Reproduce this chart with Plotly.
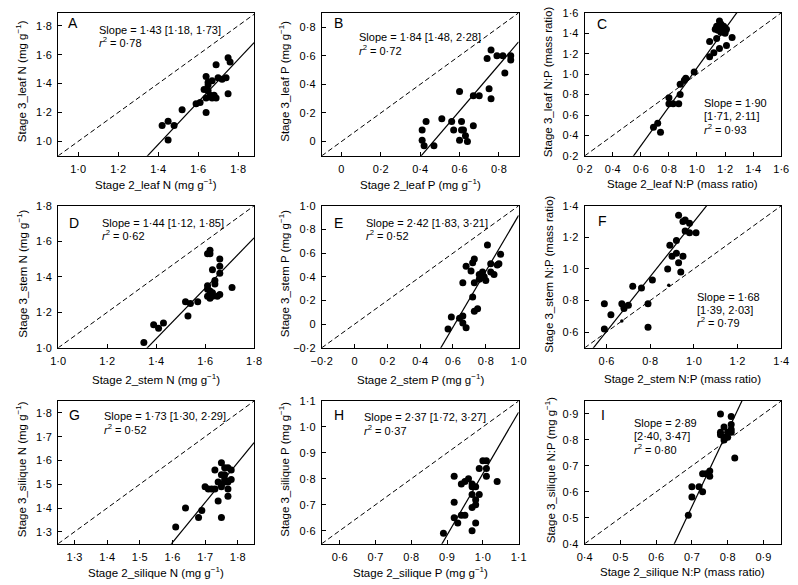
import plotly.graph_objects as go

W, H = 798, 585
FONT = "Liberation Sans, Arial, sans-serif"

# ---------------- data ----------------
a_x = [1.42,1.45,1.45,1.48,1.52,1.59,1.61,1.64,1.64,1.63,1.65,1.65,1.65,1.66,1.64,1.67,1.68,1.67,1.69,1.70,1.72,1.74,1.75,1.76,1.75,1.69]
a_y = [1.11,1.14,1.01,1.11,1.22,1.26,1.27,1.20,1.45,1.36,1.39,1.41,1.35,1.32,1.30,1.30,1.32,1.42,1.53,1.44,1.43,1.44,1.58,1.55,1.33,1.30]

b_x = [0.41,0.41,0.43,0.42,0.47,0.51,0.56,0.57,0.60,0.60,0.61,0.61,0.62,0.63,0.64,0.67,0.67,0.70,0.74,0.76,0.75,0.76,0.79,0.82,0.83,0.86,0.86]
b_y = [0.01,0.08,0.14,-0.03,-0.03,0.16,0.14,0.08,0.01,0.35,0.08,0.14,0.08,0.04,0.00,0.11,0.32,0.32,0.58,0.64,0.37,0.30,0.60,0.60,0.48,0.60,0.57]

c_x = [0.69,0.72,0.74,0.80,0.80,0.83,0.87,0.88,0.88,0.91,0.92,0.98,
       1.09,1.12,1.16,1.21,1.09,1.14,1.25,1.20,1.17,1.18,1.14,1.19,1.16,1.15,1.17,1.21,1.13,1.20]
c_y = [0.48,0.52,0.43,0.77,0.71,0.71,0.71,0.80,0.90,0.94,0.96,1.02,
       1.17,1.21,1.25,1.28,1.32,1.35,1.36,1.40,1.41,1.45,1.47,1.47,1.52,1.43,1.49,1.44,1.44,1.42]

d_x = [1.35,1.39,1.41,1.43,1.52,1.53,1.54,1.57,1.61,1.61,1.61,1.62,1.62,1.63,1.61,1.62,1.63,1.63,1.64,1.64,1.65,1.66,1.66,1.66,1.66,1.71,1.62]
d_y = [1.03,1.13,1.11,1.14,1.26,1.18,1.25,1.26,1.35,1.33,1.53,1.55,1.53,1.44,1.29,1.32,1.31,1.29,1.38,1.36,1.29,1.50,1.46,1.42,1.30,1.34,1.28]

e_x = [0.57,0.59,0.64,0.66,0.66,0.68,0.66,0.68,0.71,0.72,0.73,0.72,0.73,0.75,0.73,0.76,0.77,0.78,0.79,0.80,0.81,0.83,0.83,0.85,0.87,0.88,0.89,0.76]
e_y = [-0.04,0.06,0.05,0.07,0.01,-0.03,0.35,0.49,0.45,0.52,0.55,0.23,0.11,0.13,0.35,0.42,0.39,0.44,0.40,0.37,0.67,0.51,0.44,0.42,0.50,0.51,0.59,0.38]

f_x = [0.59,0.59,0.62,0.67,0.68,0.68,0.72,0.70,0.76,0.79,0.79,0.81,0.88,0.89,0.90,0.92,0.92,0.93,0.94,0.93,0.95,0.96,0.95,0.96,0.98,0.98,1.01]
f_y = [0.78,0.62,0.71,0.78,0.76,0.75,0.89,0.77,0.88,0.78,0.63,0.93,1.00,1.15,1.08,1.10,1.18,1.04,0.98,1.34,1.30,1.31,1.08,1.24,1.23,1.29,1.23]
f_small_x = [0.67, 0.885]
f_small_y = [0.67, 0.896]

g_x = [1.61,1.64,1.68,1.69,1.70,1.71,1.72,1.73,1.73,1.74,1.74,1.75,1.75,1.75,1.75,1.75,1.76,1.76,1.76,1.77,1.77,1.77,1.77,1.78,1.78,1.76]
g_y = [1.32,1.40,1.36,1.39,1.49,1.48,1.48,1.48,1.56,1.43,1.51,1.50,1.49,1.59,1.54,1.36,1.57,1.52,1.51,1.57,1.51,1.45,1.48,1.52,1.56,1.54]

h_x = [0.89,0.92,0.92,0.92,0.93,0.94,0.94,0.95,0.96,0.95,0.97,0.97,0.97,0.97,0.97,0.98,0.98,0.98,0.98,0.99,0.99,1.00,1.01,1.01,1.01,1.04]
h_y = [0.59,0.81,0.71,0.65,0.63,0.78,0.66,0.79,0.80,0.66,0.60,0.77,0.69,0.74,0.78,0.70,0.72,0.63,0.77,0.74,0.84,0.87,0.87,0.81,0.84,0.79]

i_x = [0.69,0.70,0.70,0.72,0.73,0.73,0.74,0.75,0.75,0.78,0.78,0.78,0.79,0.79,0.79,0.80,0.80,0.81,0.81,0.81,0.81,0.82]
i_y = [0.51,0.62,0.58,0.62,0.67,0.60,0.67,0.68,0.66,0.90,0.82,0.83,0.85,0.81,0.80,0.81,0.83,0.84,0.86,0.83,0.89,0.73]

panel_letters = ["A", "B", "C", "D", "E", "F", "G", "H", "I"]
fit_slopes = [1.47, 1.61, 1.905, 1.42, 2.36, 1.737, 1.68, 2.37, 2.91]
fit_intercepts = [-1.08, -0.752, -0.844, -0.937, -1.441, -0.438, -1.433, -1.55, -1.494]

x_ranges = [[0.9, 1.88], [-0.1, 0.9], [0.2, 1.6], [1.0, 1.8], [-0.2, 1.0], [0.5, 1.4], [1.25, 1.85], [0.55, 1.1], [0.4, 0.95]]
y_ranges = [[0.9, 1.89], [-0.1, 0.9], [0.2, 1.6], [1.0, 1.8], [-0.2, 1.0], [0.5, 1.4], [1.25, 1.85], [0.55, 1.1], [0.4, 0.95]]

x_ticks = [[1.0,1.2,1.4,1.6,1.8], [0,0.2,0.4,0.6,0.8], [0.2,0.4,0.6,0.8,1.0,1.2,1.4,1.6],
           [1.0,1.2,1.4,1.6,1.8], [-0.2,0,0.2,0.4,0.6,0.8,1.0], [0.6,0.8,1.0,1.2,1.4],
           [1.3,1.4,1.5,1.6,1.7,1.8], [0.6,0.7,0.8,0.9,1.0,1.1], [0.4,0.5,0.6,0.7,0.8,0.9]]
y_ticks = [[1.0,1.2,1.4,1.6,1.8], [0,0.2,0.4,0.6,0.8], [0.2,0.4,0.6,0.8,1.0,1.2,1.4,1.6],
           [1.0,1.2,1.4,1.6,1.8], [-0.2,0,0.2,0.4,0.6,0.8,1.0], [0.6,0.8,1.0,1.2,1.4],
           [1.3,1.4,1.5,1.6,1.7,1.8], [0.6,0.7,0.8,0.9,1.0,1.1], [0.4,0.5,0.6,0.7,0.8,0.9]]

G1 = "(mg g<sup>−1</sup>)"
x_titles = ["Stage 2_leaf N " + G1, "Stage 2_leaf P " + G1, "Stage 2_leaf N:P (mass ratio)",
            "Stage 2_stem N " + G1, "Stage 2_stem P " + G1, "Stage 2_stem N:P (mass ratio)",
            "Stage 2_silique N " + G1, "Stage 2_silique P " + G1, "Stage 2_silique N:P (mass ratio)"]
y_titles = ["Stage 3_leaf N " + G1, "Stage 3_leaf P " + G1, "Stage 3_leaf N:P (mass ratio)",
            "Stage 3_stem N " + G1, "Stage 3_stem P " + G1, "Stage 3_stem N:P (mass ratio)",
            "Stage 3_silique N " + G1, "Stage 3_silique P " + G1, "Stage 3_silique N:P " + G1]

R2 = "<i>r</i><sup>2</sup> = "
stat_lines = [["Slope = 1·43 [1·18, 1·73]", R2 + "0·78"],
              ["Slope = 1·84 [1·48, 2·28]", R2 + "0·72"],
              ["Slope = 1·90", "[1·71, 2·11]", R2 + "0·93"],
              ["Slope = 1·44 [1·12, 1·85]", R2 + "0·62"],
              ["Slope = 2·42 [1·83, 3·21]", R2 + "0·52"],
              ["Slope = 1·68", "[1·39, 2·03]", R2 + "0·79"],
              ["Slope = 1·73 [1·30, 2·29]", R2 + "0·52"],
              ["Slope = 2·37 [1·72, 3·27]", R2 + "0·37"],
              ["Slope = 2·89", "[2·40, 3·47]", R2 + "0·80"]]

xs = [a_x, b_x, c_x, d_x, e_x, f_x, g_x, h_x, i_x]
ys = [a_y, b_y, c_y, d_y, e_y, f_y, g_y, h_y, i_y]

# ---------------- layout geometry (pixels) ----------------
col_px = [(48.3, 249.0), (318.3, 520.0), (587.7, 789.0)]
row_px = [(7.0, 153.0), (204.0, 349.0), (403.3, 549.0)]
xtitle_y = [182, 381, 578]
ytitle_x = [11, 280, 551]
letter_pos = [(56, 17), (329, 17), (598, 18), (57, 222), (329, 222), (599, 220), (57, 418), (329, 418), (602, 418)]
stat_pos = [(88, [24, 37]), (354, [32, 45]), (708, [99, 112, 126]),
            (91, [222, 234]), (362, [222, 234]), (701, [297, 310, 323]),
            (93, [419, 432]), (360, [420, 433]), (636, [426, 439, 452])]


def px(v):
    return v / W


def py(v):
    return 1 - v / H


def fmt(v):
    if abs(v) < 1e-9:
        return "0"
    s = f"{abs(v):.1f}".replace(".", "·")
    return ("−" if v < 0 else "") + s


fig = go.Figure()
layout = dict(width=W, height=H, margin=dict(l=0, r=0, t=0, b=0),
              paper_bgcolor="white", plot_bgcolor="white", showlegend=False,
              font=dict(family=FONT, size=11, color="black"))
annotations = []

for i in range(9):
    k = i + 1
    r, c = divmod(i, 3)
    xa = "x" if k == 1 else f"x{k}"
    ya = "y" if k == 1 else f"y{k}"
    xr, yr = x_ranges[i], y_ranges[i]
    axis_common = dict(showline=True, mirror=True, linecolor="black", linewidth=1,
                       ticks="inside", ticklen=4, tickwidth=1, tickcolor="black",
                       showgrid=False, zeroline=False, fixedrange=True,
                       tickfont=dict(family=FONT, size=11, color="black"))
    layout["xaxis" if k == 1 else f"xaxis{k}"] = dict(
        domain=[px(col_px[c][0]), px(col_px[c][1])], range=xr, anchor=ya, ticklabelstandoff=3,
        tickmode="array", tickvals=x_ticks[i], ticktext=[fmt(v) for v in x_ticks[i]], **axis_common)
    layout["yaxis" if k == 1 else f"yaxis{k}"] = dict(
        domain=[py(row_px[r][1]), py(row_px[r][0])], range=yr, anchor=xa, ticklabelstandoff=3,
        tickmode="array", tickvals=y_ticks[i], ticktext=[fmt(v) for v in y_ticks[i]], **axis_common)

    lo = min(xr[0], yr[0])
    hi = max(xr[1], yr[1])
    # 1:1 line
    fig.add_trace(go.Scatter(x=[lo, hi], y=[lo, hi], mode="lines", xaxis=xa, yaxis=ya,
                             line=dict(color="black", width=1, dash="5px,3px"), hoverinfo="skip"))
    # fitted line
    fx = [xr[0], xr[1]]
    fy = [fit_intercepts[i] + fit_slopes[i] * v for v in fx]
    fig.add_trace(go.Scatter(x=fx, y=fy, mode="lines", xaxis=xa, yaxis=ya,
                             line=dict(color="black", width=1.2), hoverinfo="skip"))
    # points
    fig.add_trace(go.Scatter(x=xs[i], y=ys[i], mode="markers", xaxis=xa, yaxis=ya,
                             marker=dict(color="black", size=7, line=dict(width=0))))
    if i == 5:
        fig.add_trace(go.Scatter(x=f_small_x, y=f_small_y, mode="markers", xaxis=xa, yaxis=ya,
                                 marker=dict(color="black", size=3.5, line=dict(width=0))))

    # axis titles
    annotations.append(dict(text=x_titles[i], x=px((col_px[c][0] + col_px[c][1]) / 2), y=py(xtitle_y[r]),
                            xref="paper", yref="paper", showarrow=False, xanchor="center", yanchor="middle",
                            font=dict(family=FONT, size=11.5, color="black")))
    annotations.append(dict(text=y_titles[i], x=px(ytitle_x[c] if not (c == 2 and r == 2) else 553),
                            y=py((row_px[r][0] + row_px[r][1]) / 2 - 3),
                            xref="paper", yref="paper", showarrow=False, xanchor="center", yanchor="middle",
                            textangle=-90, font=dict(family=FONT, size=11.5, color="black")))
    # panel letter
    lx, ly = letter_pos[i]
    annotations.append(dict(text=panel_letters[i], x=px(lx), y=py(ly), xref="paper", yref="paper",
                            showarrow=False, xanchor="left", yanchor="middle",
                            font=dict(family=FONT, size=14, color="black")))
    # stats text
    sx, sys_ = stat_pos[i]
    for line, yy in zip(stat_lines[i], sys_):
        annotations.append(dict(text=line, x=px(sx), y=py(yy), xref="paper", yref="paper",
                                showarrow=False, xanchor="left", yanchor="middle",
                                font=dict(family=FONT, size=11, color="black")))

layout["annotations"] = annotations
fig.update_layout(**layout)
fig.write_html("out.html", config={"displayModeBar": False},
               post_script="document.body.style.margin='0';document.body.style.overflow='hidden';")
